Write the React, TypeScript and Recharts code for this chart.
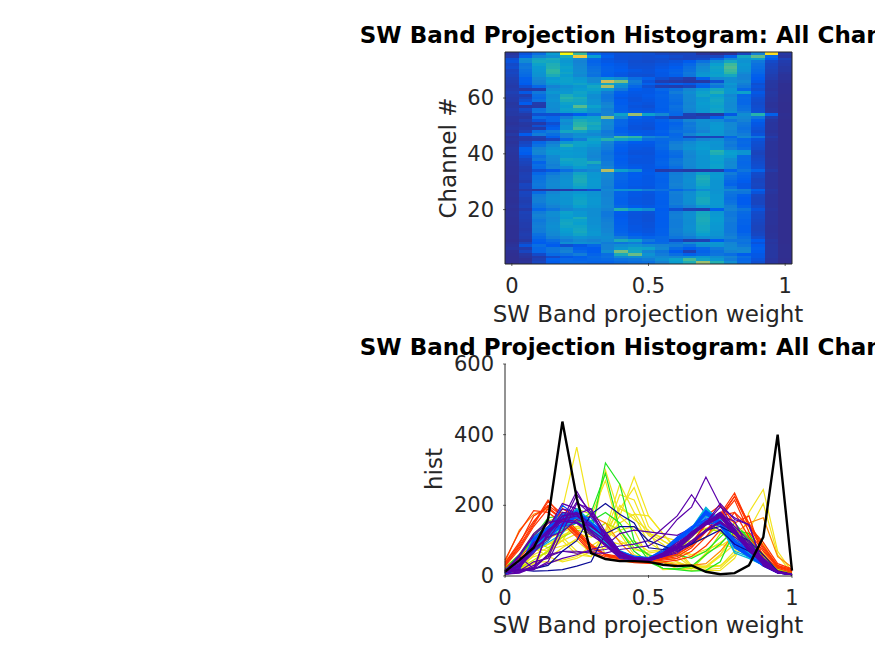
import { Bar, BarChart, Cell, Line, LineChart, XAxis, YAxis } from "recharts";

const TITLE = "SW Band Projection Histogram: All Channels";
const X_LABEL = "SW Band projection weight";
const binCenters = [0, 0.05, 0.1, 0.15, 0.2, 0.25, 0.3, 0.35, 0.4, 0.45, 0.5, 0.55, 0.6, 0.65, 0.7, 0.75, 0.8, 0.85, 0.9, 0.95, 1];
const xTicks = [0, 0.5, 1];
const channelTicks = [20, 40, 60];
const histTicks = [0, 200, 400, 600];

// rows run from channel 76 (top of the image) down to channel 1
const histRows = [
  [12, 45, 80, 160, 437, 220, 65, 48, 42, 42, 40, 32, 28, 30, 12, 5, 8, 30, 110, 400, 15],
  [18, 62, 112, 135, 190, 365, 165, 58, 42, 40, 38, 42, 36, 30, 28, 30, 60, 180, 245, 70, 12],
  [40, 130, 175, 190, 165, 125, 70, 48, 42, 40, 38, 38, 32, 30, 35, 70, 120, 150, 165, 55, 25],
  [45, 125, 185, 180, 150, 110, 65, 50, 45, 38, 36, 40, 45, 55, 85, 130, 180, 140, 95, 35, 20],
  [35, 90, 170, 195, 160, 115, 70, 55, 50, 40, 40, 45, 50, 70, 110, 165, 225, 150, 85, 30, 18],
  [38, 95, 155, 200, 170, 120, 80, 60, 52, 42, 42, 48, 55, 80, 125, 175, 235, 145, 80, 28, 15],
  [30, 85, 150, 215, 165, 125, 85, 62, 55, 48, 44, 52, 62, 85, 130, 170, 225, 140, 75, 26, 15],
  [32, 80, 145, 210, 175, 130, 90, 60, 50, 44, 44, 50, 68, 95, 145, 165, 215, 125, 70, 25, 12],
  [28, 75, 140, 190, 160, 120, 85, 58, 48, 42, 40, 50, 60, 90, 150, 170, 180, 110, 60, 22, 10],
  [25, 60, 120, 155, 170, 150, 120, 150, 130, 80, 60, 40, 30, 20, 60, 120, 130, 110, 55, 20, 10],
  [22, 60, 110, 165, 170, 160, 120, 320, 260, 100, 45, 22, 18, 14, 16, 40, 130, 120, 50, 15, 8],
  [20, 55, 105, 150, 165, 175, 155, 180, 150, 90, 60, 50, 60, 50, 70, 110, 150, 105, 40, 14, 6],
  [18, 40, 70, 110, 130, 150, 180, 290, 130, 70, 40, 22, 20, 28, 60, 90, 135, 95, 45, 14, 6],
  [20, 18, 20, 130, 145, 160, 170, 150, 95, 55, 50, 70, 85, 115, 150, 180, 150, 70, 40, 12, 6],
  [24, 50, 95, 150, 150, 175, 150, 100, 60, 50, 50, 60, 100, 130, 170, 200, 150, 170, 50, 15, 6],
  [20, 22, 80, 130, 190, 170, 130, 90, 55, 48, 52, 65, 85, 120, 175, 165, 120, 70, 45, 14, 5],
  [18, 30, 75, 135, 205, 190, 130, 90, 50, 45, 50, 62, 85, 120, 150, 175, 135, 75, 40, 12, 5],
  [18, 40, 85, 140, 190, 180, 140, 95, 55, 45, 48, 60, 80, 120, 155, 180, 130, 70, 38, 12, 5],
  [14, 55, 20, 130, 170, 175, 140, 110, 55, 48, 45, 60, 75, 115, 160, 175, 125, 70, 36, 10, 4],
  [15, 15, 18, 130, 160, 240, 170, 120, 60, 45, 42, 60, 85, 120, 155, 170, 125, 80, 38, 10, 4],
  [18, 35, 85, 125, 170, 180, 145, 105, 60, 48, 46, 58, 80, 115, 150, 175, 130, 85, 40, 12, 4],
  [16, 28, 90, 130, 160, 170, 140, 110, 65, 52, 50, 62, 75, 110, 150, 180, 140, 100, 42, 12, 4],
  [16, 18, 40, 40, 45, 55, 85, 110, 170, 280, 170, 120, 70, 24, 15, 16, 50, 130, 205, 60, 6],
  [12, 14, 80, 70, 100, 160, 170, 270, 120, 60, 50, 40, 20, 22, 28, 60, 130, 120, 90, 22, 5],
  [12, 22, 45, 70, 140, 190, 175, 120, 70, 50, 48, 60, 80, 115, 135, 125, 90, 110, 60, 14, 4],
  [10, 15, 18, 40, 125, 205, 190, 125, 70, 48, 45, 55, 65, 95, 130, 150, 120, 95, 50, 12, 4],
  [12, 14, 40, 50, 145, 210, 175, 115, 68, 45, 44, 55, 70, 100, 130, 155, 120, 90, 48, 12, 4],
  [14, 18, 20, 60, 145, 230, 180, 115, 60, 45, 42, 55, 75, 95, 125, 155, 125, 85, 45, 12, 4],
  [10, 25, 80, 100, 180, 175, 140, 95, 60, 50, 50, 60, 85, 90, 110, 150, 115, 90, 40, 10, 4],
  [16, 55, 100, 80, 110, 130, 120, 100, 70, 55, 50, 55, 70, 110, 150, 150, 120, 100, 45, 12, 4],
  [10, 20, 25, 60, 110, 140, 150, 120, 230, 215, 120, 100, 75, 30, 25, 28, 70, 120, 90, 18, 4],
  [12, 18, 20, 30, 70, 100, 175, 205, 175, 150, 80, 75, 80, 90, 110, 130, 90, 70, 45, 12, 4],
  [10, 30, 70, 100, 150, 170, 165, 115, 70, 55, 52, 70, 100, 125, 150, 145, 100, 75, 40, 10, 4],
  [12, 35, 85, 120, 200, 170, 150, 105, 62, 50, 50, 75, 110, 135, 155, 140, 95, 70, 38, 10, 4],
  [14, 60, 110, 140, 165, 150, 130, 100, 58, 48, 46, 70, 110, 140, 160, 145, 105, 80, 36, 10, 4],
  [13, 60, 120, 155, 155, 150, 125, 90, 55, 45, 45, 62, 85, 125, 150, 205, 160, 145, 30, 9, 4],
  [12, 55, 115, 150, 160, 155, 120, 85, 52, 44, 44, 60, 80, 120, 150, 195, 165, 145, 28, 9, 4],
  [11, 42, 85, 125, 155, 150, 115, 90, 58, 48, 46, 58, 75, 115, 145, 170, 155, 75, 32, 9, 4],
  [11, 32, 95, 120, 180, 175, 125, 90, 55, 46, 46, 62, 90, 120, 145, 170, 130, 75, 34, 10, 4],
  [10, 28, 65, 115, 170, 175, 190, 100, 58, 46, 46, 66, 95, 120, 145, 165, 120, 70, 36, 10, 4],
  [10, 26, 80, 105, 160, 175, 130, 100, 60, 50, 48, 64, 90, 120, 145, 170, 125, 72, 38, 10, 4],
  [9, 22, 75, 110, 125, 160, 140, 110, 65, 52, 48, 58, 80, 115, 145, 170, 120, 75, 40, 11, 4],
  [9, 20, 40, 50, 80, 105, 120, 300, 170, 130, 50, 18, 20, 16, 18, 22, 60, 90, 65, 16, 4],
  [9, 24, 70, 95, 120, 175, 150, 120, 70, 55, 52, 65, 100, 125, 170, 150, 100, 70, 36, 10, 4],
  [8, 25, 85, 110, 130, 185, 150, 120, 72, 56, 50, 65, 105, 130, 190, 155, 85, 65, 34, 10, 4],
  [8, 24, 85, 115, 135, 190, 155, 115, 70, 54, 50, 62, 105, 135, 195, 150, 80, 60, 30, 10, 4],
  [8, 20, 90, 120, 140, 190, 155, 110, 65, 52, 50, 62, 105, 135, 185, 145, 70, 55, 30, 10, 4],
  [9, 30, 95, 125, 140, 180, 155, 110, 62, 52, 50, 65, 110, 130, 180, 145, 65, 50, 32, 10, 4],
  [9, 28, 90, 120, 135, 170, 150, 105, 60, 50, 48, 65, 105, 130, 170, 145, 85, 50, 30, 10, 4],
  [8, 18, 14, 15, 18, 28, 40, 120, 140, 140, 100, 85, 70, 90, 130, 140, 120, 100, 60, 14, 4],
  [9, 30, 75, 115, 140, 150, 140, 110, 65, 50, 48, 62, 105, 130, 175, 145, 90, 90, 45, 12, 4],
  [9, 28, 100, 130, 145, 165, 145, 110, 65, 50, 46, 60, 100, 135, 175, 150, 85, 60, 32, 10, 4],
  [8, 24, 105, 135, 140, 170, 150, 115, 62, 48, 46, 60, 100, 135, 185, 150, 80, 55, 30, 10, 4],
  [8, 22, 105, 130, 145, 175, 150, 115, 60, 48, 46, 58, 100, 135, 185, 155, 85, 55, 30, 10, 4],
  [9, 24, 95, 125, 145, 175, 150, 115, 62, 48, 46, 58, 105, 130, 180, 155, 90, 55, 30, 10, 4],
  [10, 26, 90, 110, 130, 165, 145, 120, 70, 54, 50, 60, 90, 110, 150, 150, 105, 65, 36, 10, 4],
  [8, 18, 70, 90, 115, 135, 130, 110, 200, 160, 130, 55, 40, 25, 22, 60, 110, 90, 45, 12, 4],
  [9, 26, 100, 130, 170, 150, 130, 95, 55, 46, 44, 58, 100, 130, 180, 150, 95, 75, 36, 10, 4],
  [9, 24, 110, 130, 165, 150, 130, 95, 52, 45, 42, 58, 105, 135, 185, 155, 95, 70, 34, 10, 4],
  [8, 24, 105, 120, 160, 190, 135, 100, 54, 45, 42, 56, 105, 135, 190, 160, 100, 70, 34, 10, 4],
  [8, 22, 95, 125, 175, 170, 135, 105, 56, 46, 42, 56, 100, 130, 190, 160, 100, 65, 32, 10, 4],
  [8, 20, 100, 130, 180, 165, 135, 110, 58, 46, 44, 58, 100, 130, 185, 155, 95, 65, 30, 10, 4],
  [7, 20, 105, 135, 175, 175, 140, 110, 60, 48, 44, 58, 100, 135, 180, 150, 95, 60, 28, 9, 4],
  [7, 18, 100, 130, 165, 180, 145, 115, 62, 48, 46, 60, 105, 135, 180, 150, 95, 60, 28, 9, 4],
  [7, 20, 100, 125, 160, 185, 150, 115, 64, 50, 46, 60, 105, 130, 175, 145, 95, 60, 30, 9, 4],
  [7, 22, 85, 120, 150, 175, 150, 125, 70, 56, 50, 62, 100, 120, 165, 145, 100, 70, 32, 10, 4],
  [7, 20, 75, 105, 125, 140, 130, 130, 100, 75, 65, 72, 90, 100, 130, 130, 110, 80, 38, 10, 4],
  [6, 15, 60, 80, 100, 120, 110, 125, 190, 170, 95, 70, 40, 22, 25, 55, 90, 90, 55, 14, 4],
  [8, 28, 55, 65, 130, 140, 130, 100, 90, 100, 70, 75, 90, 125, 150, 150, 115, 85, 45, 12, 4],
  [10, 45, 80, 55, 40, 50, 70, 110, 130, 140, 120, 110, 100, 85, 135, 145, 120, 95, 55, 14, 5],
  [12, 20, 70, 90, 100, 60, 55, 110, 150, 175, 170, 120, 75, 55, 70, 95, 125, 115, 60, 14, 5],
  [7, 30, 70, 90, 110, 70, 55, 130, 260, 180, 115, 90, 55, 24, 65, 85, 110, 120, 55, 14, 5],
  [6, 15, 35, 75, 85, 100, 65, 80, 190, 250, 140, 100, 80, 60, 75, 90, 80, 55, 50, 14, 5],
  [5, 12, 20, 35, 50, 60, 75, 85, 120, 130, 125, 120, 115, 135, 150, 130, 110, 80, 50, 14, 5],
  [5, 8, 25, 60, 70, 65, 70, 75, 85, 90, 100, 135, 170, 230, 175, 150, 100, 70, 45, 12, 4],
  [5, 10, 30, 55, 70, 70, 65, 65, 75, 80, 85, 110, 160, 195, 280, 200, 130, 75, 40, 12, 4],
];

// which channels each line colour goes to, drawn in this order
const lineGroups = [
  { color: "#f2e41e", channels: [75, 54, 53, 46, 34, 20, 9, 8, 7, 6, 5, 4, 10] },
  { color: "#b4e600", channels: [67, 52, 48, 47, 21] },
  { color: "#1ee61e", channels: [66, 65, 64] },
  { color: "#ff8c00", channels: [74, 63] },
  { color: "#ff3300", channels: [73, 72, 71, 70, 69, 68, 62, 61] },
  { color: "#5a00aa", channels: [60, 59, 58, 3, 2, 1] },
  { color: "#00b4dc", channels: [33, 32, 31, 30, 29, 28, 19, 18, 17, 16, 15] },
  { color: "#0050ff", channels: [26, 25, 24, 23, 22, 14, 13, 12, 11, 44, 43, 42] },
  { color: "#0a0a96", channels: [45, 27] },
  { color: "#5a00aa", channels: [57, 56, 55, 51, 50, 49, 41, 40, 39, 38, 37, 36, 35] },
];

const TEXT_COLOR = "#262626";
const AXIS_COLOR = "#262626";
const FONT = "'DejaVu Sans'";
const COLOR_MAX = 437;
const TICK_SIZE = 21;
const LABEL_SIZE = 23;

const parula = [
  [53, 42, 135],
  [0, 92, 238],
  [20, 130, 212],
  [8, 158, 208],
  [48, 184, 160],
  [146, 191, 115],
  [217, 186, 86],
  [252, 206, 46],
  [249, 251, 14],
];

function cellColor(v: number) {
  const t = Math.min(v / COLOR_MAX, 1) * (parula.length - 1);
  const i = Math.min(Math.floor(t), parula.length - 2);
  const f = t - i;
  const c = parula[i].map((p, k) => Math.round(p + (parula[i + 1][k] - p) * f));
  return `rgb(${c[0]},${c[1]},${c[2]})`;
}

const channelCount = histRows.length;
const channelKey = (ch: number) => `ch${ch}`;
const rowOf = (ch: number) => histRows[channelCount - ch];

// every heatmap cell is one unit tall, the pad makes channel n centre on n
const heatData = binCenters.map((bin) => {
  const row: Record<string, number> = { bin, pad: 0.5 };
  for (let ch = 1; ch <= channelCount; ch++) row[channelKey(ch)] = 1;
  return row;
});

const lineData = binCenters.map((bin, j) => {
  const row: Record<string, number> = { bin };
  for (let ch = 1; ch <= channelCount; ch++) row[channelKey(ch)] = rowOf(ch)[j];
  return row;
});

const channels = histRows.map((_, i) => i + 1);

function XTick({ x, y, payload }: any) {
  return (
    <g>
      <line x1={x} x2={x} y1={y} y2={y - 3} stroke={AXIS_COLOR} strokeWidth={0.7} />
      <text x={x} y={y + 27} textAnchor="middle" fontSize={TICK_SIZE} fontFamily={FONT} fill={TEXT_COLOR}>
        {payload.value}
      </text>
    </g>
  );
}

function YTick({ x, y, payload }: any) {
  return (
    <g>
      <line x1={x} x2={x + 3} y1={y} y2={y} stroke={AXIS_COLOR} strokeWidth={0.7} />
      <text x={x - 9} y={y + 7} textAnchor="end" fontSize={TICK_SIZE} fontFamily={FONT} fill={TEXT_COLOR}>
        {payload.value}
      </text>
    </g>
  );
}

function Texts({ titleY, xLabelY, yLabel, yLabelX, yLabelY }: any) {
  return (
    <>
      <text x={648} y={titleY} textAnchor="middle" fontSize={LABEL_SIZE} fontWeight="bold" fontFamily={FONT} fill="#000">
        {TITLE}
      </text>
      <text x={648} y={xLabelY} textAnchor="middle" fontSize={LABEL_SIZE} fontFamily={FONT} fill={TEXT_COLOR}>
        {X_LABEL}
      </text>
      <text
        x={yLabelX}
        y={yLabelY}
        textAnchor="middle"
        fontSize={LABEL_SIZE}
        fontFamily={FONT}
        fill={TEXT_COLOR}
        transform={`rotate(-90 ${yLabelX} ${yLabelY})`}
      >
        {yLabel}
      </text>
    </>
  );
}

export default function App() {
  return (
    <div style={{ position: "absolute", left: 0, top: 0, width: 875, height: 656, overflow: "hidden", background: "#fff" }}>
      <div style={{ position: "absolute", left: 0, top: 0 }}>
        <BarChart
          width={875}
          height={330}
          data={heatData}
          barCategoryGap={0}
          barGap={0}
          margin={{ top: 51, right: 82, bottom: 36, left: 445 }}
        >
          <XAxis
            dataKey="bin"
            height={30}
            ticks={xTicks}
            interval={0}
            stroke={AXIS_COLOR}
            tickSize={0}
            tick={<XTick />}
          />
          <XAxis xAxisId="top" dataKey="bin" orientation="top" height={1} tick={false} tickLine={false} stroke={AXIS_COLOR} />
          <YAxis
            type="number"
            width={60}
            domain={[0.5, 76.5]}
            allowDataOverflow
            ticks={channelTicks}
            interval={0}
            stroke={AXIS_COLOR}
            tickSize={0}
            tick={<YTick />}
          />
          <YAxis yAxisId="right" orientation="right" width={1} tick={false} tickLine={false} stroke={AXIS_COLOR} />
          <Bar dataKey="pad" stackId="h" fill="none" isAnimationActive={false} />
          {channels.map((ch) => (
            <Bar key={ch} dataKey={channelKey(ch)} stackId="h" isAnimationActive={false} shapeRendering="crispEdges">
              {binCenters.map((_, j) => (
                <Cell key={j} fill={cellColor(rowOf(ch)[j])} />
              ))}
            </Bar>
          ))}
          <Texts titleY={43} xLabelY={322} yLabel="Channel #" yLabelX={456} yLabelY={158} />
        </BarChart>
      </div>
      <div style={{ position: "absolute", left: 0, top: 330 }}>
        <LineChart width={875} height={326} data={lineData} margin={{ top: 34, right: 83, bottom: 50, left: 445 }}>
          <XAxis
            dataKey="bin"
            type="number"
            domain={[0, 1]}
            ticks={xTicks}
            interval={0}
            height={30}
            stroke={AXIS_COLOR}
            tickSize={0}
            tick={<XTick />}
          />
          <YAxis
            type="number"
            width={60}
            domain={[0, 600]}
            ticks={histTicks}
            interval={0}
            stroke={AXIS_COLOR}
            tickSize={0}
            tick={<YTick />}
          />
          {lineGroups.map((g) =>
            g.channels.map((ch) => (
              <Line
                key={ch}
                dataKey={channelKey(ch)}
                stroke={g.color}
                strokeWidth={1.2}
                dot={false}
                isAnimationActive={false}
              />
            )),
          )}
          <Line dataKey={channelKey(76)} stroke="#000" strokeWidth={2.4} dot={false} isAnimationActive={false} />
          <Texts titleY={25} xLabelY={303} yLabel="hist" yLabelX={442} yLabelY={139} />
        </LineChart>
      </div>
    </div>
  );
}
